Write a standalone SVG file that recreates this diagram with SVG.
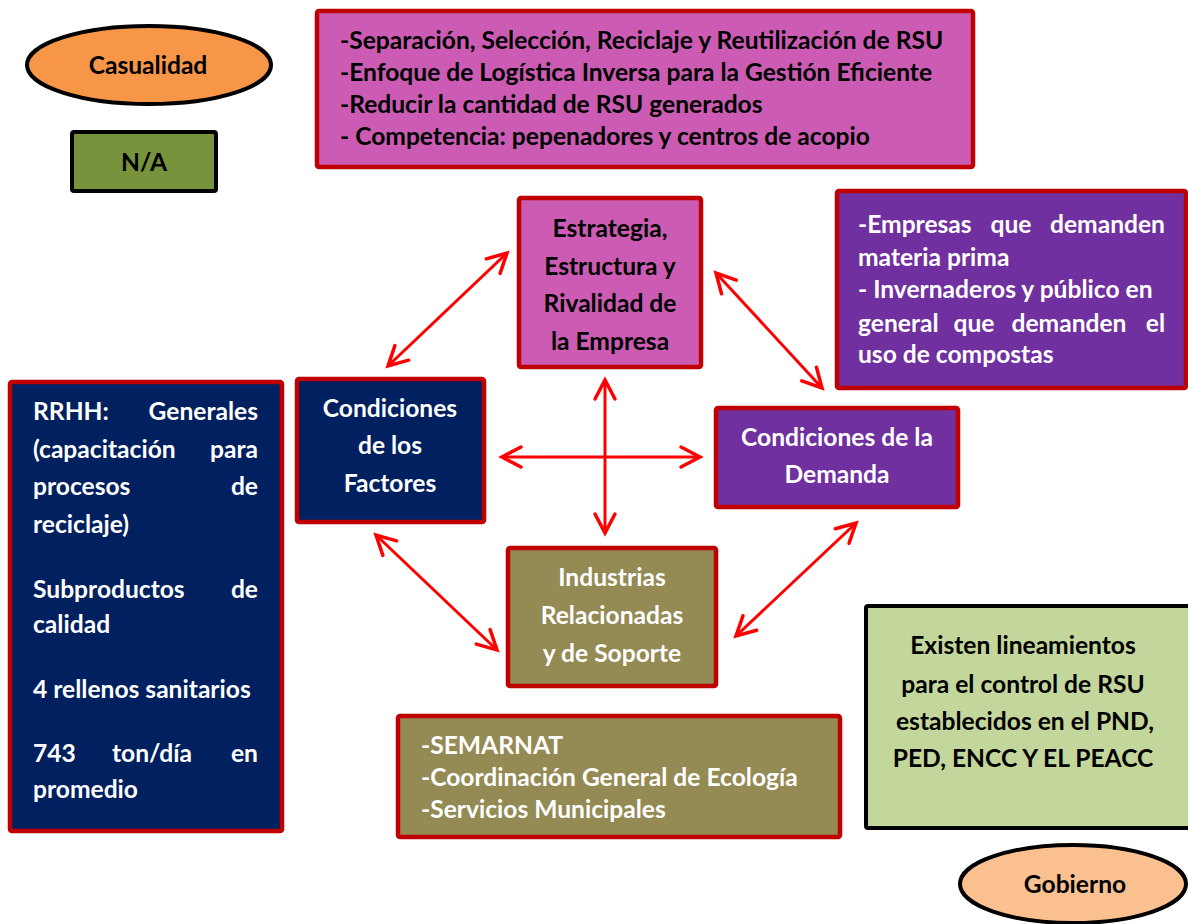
<svg xmlns="http://www.w3.org/2000/svg" width="1188" height="924" viewBox="0 0 1188 924">
  <style>
    text { font-family: Lato, "Open Sans", "Liberation Sans", sans-serif; font-weight: bold; font-size: 24.6px; }
    .dark { fill: #000000; }
    .light { fill: #FFFFFF; }
    .mid { text-anchor: middle; }
    .end { text-anchor: end; }
    .box { stroke: #C00000; stroke-width: 4.5; }
    .blk { stroke: #000000; stroke-width: 4; }
    .pink { fill: #CB5BB3; }
    .purple { fill: #7030A0; }
    .navy { fill: #002060; }
    .olive { fill: #948A54; }
    .link { stroke: #FF0000; stroke-width: 3; fill: none; marker-start: url(#chev); marker-end: url(#chev); }
  </style>
  <defs>
    <marker id="chev" viewBox="-24 -14 28 28" refX="0" refY="0" markerWidth="28" markerHeight="28" markerUnits="userSpaceOnUse" orient="auto-start-reverse">
      <path d="M-19,-10 L0,0 L-19,10" fill="none" stroke="#FF0000" stroke-width="3.5" stroke-linecap="round" stroke-linejoin="miter"/>
    </marker>
  </defs>
  <rect width="1188" height="924" fill="#FFFFFF"/>

  <!-- chance factor -->
  <g id="casualidad">
    <ellipse cx="149" cy="65" rx="122" ry="39" fill="#F79646" class="blk"/>
    <text x="148" y="74" class="dark mid">Casualidad</text>
  </g>
  <g id="na">
    <rect x="72" y="132" width="144" height="59" rx="2" fill="#77933C" class="blk"/>
    <text x="144" y="171" class="dark mid">N/A</text>
  </g>

  <!-- strategy notes -->
  <g id="estrategia-notas">
    <rect x="317" y="11" width="656" height="156" rx="2" class="box pink"/>
    <text x="340" y="49" class="dark">-Separación, Selección, Reciclaje y Reutilización de RSU</text>
    <text x="340" y="81" class="dark">-Enfoque de Logística Inversa para la Gestión Eficiente</text>
    <text x="340" y="113" class="dark">-Reducir la cantidad de RSU generados</text>
    <text x="340" y="145" class="dark">- Competencia: pepenadores y centros de acopio</text>
  </g>

  <g id="estrategia">
    <rect x="519" y="198" width="182" height="169" rx="2" class="box pink"/>
    <text x="610" y="237" class="dark mid">Estrategia,</text>
    <text x="610" y="275" class="dark mid">Estructura y</text>
    <text x="610" y="312" class="dark mid">Rivalidad de</text>
    <text x="610" y="350" class="dark mid">la Empresa</text>
  </g>

  <!-- demand notes -->
  <g id="demanda-notas">
    <rect x="837" y="191" width="349" height="197" rx="2" class="box purple"/>
    <text x="858" y="233" class="light">-Empresas</text>
    <text x="1011" y="233" class="light mid">que</text>
    <text x="1165" y="233" class="light end">demanden</text>
    <text x="858" y="266" class="light">materia prima</text>
    <text x="858" y="298" class="light">- Invernaderos y público en</text>
    <text x="858" y="332" class="light">general</text>
    <text x="974" y="332" class="light mid">que</text>
    <text x="1069" y="332" class="light mid">demanden</text>
    <text x="1165" y="332" class="light end">el</text>
    <text x="858" y="363" class="light">uso de compostas</text>
  </g>

  <!-- factor conditions -->
  <g id="factores-notas">
    <rect x="10" y="382" width="272" height="449" rx="2" class="box navy"/>
    <text x="33" y="420" class="light">RRHH:</text>
    <text x="258" y="420" class="light end">Generales</text>
    <text x="33" y="458" class="light">(capacitación</text>
    <text x="258" y="458" class="light end">para</text>
    <text x="33" y="495" class="light">procesos</text>
    <text x="258" y="495" class="light end">de</text>
    <text x="33" y="533" class="light">reciclaje)</text>
    <text x="33" y="598" class="light">Subproductos</text>
    <text x="258" y="598" class="light end">de</text>
    <text x="33" y="633" class="light">calidad</text>
    <text x="33" y="698" class="light">4 rellenos sanitarios</text>
    <text x="33" y="762" class="light">743</text>
    <text x="152" y="762" class="light mid">ton/día</text>
    <text x="258" y="762" class="light end">en</text>
    <text x="33" y="798" class="light">promedio</text>
  </g>

  <g id="factores">
    <rect x="297" y="379" width="187" height="143" rx="2" class="box navy"/>
    <text x="390" y="417" class="light mid">Condiciones</text>
    <text x="390" y="454" class="light mid">de los</text>
    <text x="390" y="492" class="light mid">Factores</text>
  </g>

  <g id="demanda">
    <rect x="716" y="408" width="242" height="99" rx="2" class="box purple"/>
    <text x="837" y="446" class="light mid">Condiciones de la</text>
    <text x="837" y="483" class="light mid">Demanda</text>
  </g>

  <!-- related and supporting industries -->
  <g id="industrias">
    <rect x="508" y="548" width="208" height="138" rx="2" class="box olive"/>
    <text x="612" y="586" class="light mid">Industrias</text>
    <text x="612" y="624" class="light mid">Relacionadas</text>
    <text x="612" y="662" class="light mid">y de Soporte</text>
  </g>

  <g id="industrias-notas">
    <rect x="398" y="716" width="442" height="121" rx="2" class="box olive"/>
    <text x="421" y="754" class="light">-SEMARNAT</text>
    <text x="421" y="786" class="light">-Coordinación General de Ecología</text>
    <text x="421" y="818" class="light">-Servicios Municipales</text>
  </g>

  <!-- government -->
  <g id="gobierno-notas">
    <rect x="866" y="606" width="330" height="222" rx="2" fill="#C3D69B" class="blk"/>
    <text x="1023" y="654" class="dark mid">Existen lineamientos</text>
    <text x="1023" y="693" class="dark mid">para el control de RSU</text>
    <text x="1025" y="730" class="dark mid">establecidos en el PND,</text>
    <text x="1023" y="767" class="dark mid">PED, ENCC Y EL PEACC</text>
  </g>
  <g id="gobierno">
    <ellipse cx="1073" cy="884" rx="113" ry="39" fill="#FAC090" class="blk"/>
    <text x="1075" y="893" class="dark mid">Gobierno</text>
  </g>

  <!-- two-way links of the diamond -->
  <g id="connectors">
    <line x1="388" y1="366" x2="507" y2="253" class="link"/>
    <line x1="716" y1="273" x2="822" y2="388" class="link"/>
    <line x1="502" y1="457" x2="700" y2="457" class="link"/>
    <line x1="605" y1="380" x2="605" y2="533" class="link"/>
    <line x1="376" y1="535" x2="497" y2="650" class="link"/>
    <line x1="856" y1="523" x2="736" y2="636" class="link"/>
  </g>
</svg>
